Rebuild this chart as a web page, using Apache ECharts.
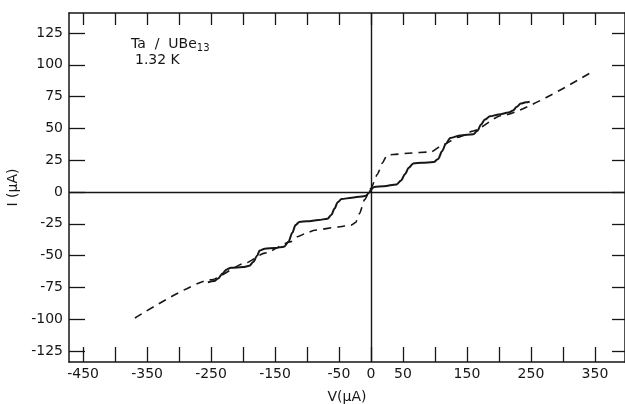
<!DOCTYPE html>
<html>
<head>
<meta charset="utf-8">
<script src="https://cdn.jsdelivr.net/npm/echarts@6/dist/echarts.min.js"></script>
<style>
  html, body { margin: 0; padding: 0; background: #fff; }
  #chart { width: 625px; height: 404px; }
</style>
</head>
<body>
<div id="chart"></div>
<script>
  // tick and label positions
  var xTicks = [-450, -400, -350, -300, -250, -200, -150, -100, -50, 0, 50, 100, 150, 200, 250, 300, 350];
  var xLabels = [-450, -350, -250, -150, -50, 0, 50, 150, 250, 350];
  var yTicks = [-125, -100, -75, -50, -25, 0, 25, 50, 75, 100, 125];

  // solid curve (stepped I-V)
  var solidV = [-255, -245, -239, -232, -226, -219, -200, -190, -184, -178, -174, -166, -150, -136, -129, -123, -118, -112,
    -100, -82, -68, -62, -57, -52, -46, -30, -15, -8, -3, 0, 5, 20, 40, 47, 53, 59, 66, 80, 98, 105, 111, 117, 124,
    140, 160, 166, 172, 178, 186, 200, 215, 222, 228, 234, 242, 248];
  var solidI = [-71, -70, -68, -64, -61, -59.5, -59, -58, -55, -50, -46, -44.5, -44, -43, -39, -32, -26, -23.5,
    -23, -22, -21, -18, -13, -8, -5.5, -4.5, -3.5, -3, -0.5, 2, 4, 4.5, 6, 9, 14, 19, 22.5, 23, 23.5, 26, 32, 38, 42.5,
    44.5, 45.5, 48, 53, 57, 59.5, 61, 62.5, 64, 67, 69.5, 70.5, 71];

  // dashed curve
  var dashV = [-369, -250, -197, -166, -125, -114, -100, -88, -52, -31, -24, -18, -10, 0, 10, 18, 25, 35, 58, 94, 112, 136, 160, 203, 344];
  var dashI = [-99, -69, -56, -48, -39, -35, -32, -30, -27.5, -26, -24, -17, -6, 3, 14, 23, 29, 29.5, 30.5, 31.5, 37, 43, 48, 60, 94];

  function pairs(xs, ys) {
    return xs.map(function (x, i) { return [x, ys[i]]; });
  }

  var ink = '#161616';
  var font = 'DejaVu Sans';
  var chart = echarts.init(document.getElementById('chart'));
  var option = {
    backgroundColor: '#fff',
    animation: false,
    textStyle: { fontFamily: font },
    grid: { left: 69, right: 0, top: 13, bottom: 42, outerBoundsMode: 'none', containLabel: false },
    xAxis: [{
      type: 'value',
      position: 'bottom',
      min: -472,
      max: 397,
      name: 'V(μA)',
      nameLocation: 'middle',
      nameGap: 28,
      nameTextStyle: { fontSize: 14, color: ink, fontFamily: font },
      axisLine: { onZero: false, lineStyle: { color: ink, width: 1.5 } },
      axisTick: { inside: true, length: 15, customValues: xTicks, lineStyle: { color: ink, width: 1.3 } },
      axisLabel: { customValues: xLabels, fontSize: 14, color: ink, margin: 5, fontFamily: font },
      splitLine: { show: false }
    }, {
      type: 'value',
      position: 'top',
      min: -472,
      max: 397,
      axisLine: { onZero: false, lineStyle: { color: ink, width: 1.5 } },
      axisTick: { inside: true, length: 12, customValues: xTicks, lineStyle: { color: ink, width: 1.3 } },
      axisLabel: { show: false },
      splitLine: { show: false }
    }],
    yAxis: [{
      type: 'value',
      position: 'left',
      min: -133.6,
      max: 140.7,
      name: 'I (μA)',
      nameLocation: 'middle',
      nameGap: 43,
      nameRotate: 90,
      nameTextStyle: { fontSize: 14, color: ink, fontFamily: font },
      axisLine: { onZero: false, lineStyle: { color: ink, width: 1.5 } },
      axisTick: { inside: true, length: 16, customValues: yTicks, lineStyle: { color: ink, width: 1.3 } },
      axisLabel: { customValues: yTicks, fontSize: 14, color: ink, margin: 6, fontFamily: font },
      splitLine: { show: false }
    }, {
      type: 'value',
      position: 'right',
      min: -133.6,
      max: 140.7,
      axisLine: { onZero: false, lineStyle: { color: ink, width: 1.5 } },
      axisTick: { inside: true, length: 13, customValues: yTicks, lineStyle: { color: ink, width: 1.3 } },
      axisLabel: { show: false },
      splitLine: { show: false }
    }],
    graphic: [{
      type: 'text',
      left: 131,
      top: 37,
      style: {
        text: 'Ta  /  UBe{sub|13}',
        fontSize: 14,
        fontFamily: font,
        fill: ink,
        rich: { sub: { fontSize: 10, fontFamily: font, padding: [8, 0, 0, 0], fill: ink } }
      }
    }, {
      type: 'text',
      left: 135,
      top: 53,
      style: { text: '1.32 K', fontSize: 14, fontFamily: font, fill: ink }
    }],
    series: [{
      name: 'solid',
      type: 'line',
      data: pairs(solidV, solidI),
      showSymbol: false,
      smooth: 0.3,
      smoothMonotone: 'x',
      lineStyle: { color: ink, width: 2 },
      markLine: {
        silent: true,
        symbol: 'none',
        label: { show: false },
        lineStyle: { color: ink, type: 'solid', width: 1.4 },
        data: [{ xAxis: 0 }, { yAxis: 0 }]
      },
      z: 3
    }, {
      name: 'dashed',
      type: 'line',
      data: pairs(dashV, dashI),
      showSymbol: false,
      smooth: 0.2,
      smoothMonotone: 'x',
      lineStyle: { color: ink, width: 1.6, type: [8, 6] },
      z: 2
    }]
  };
  chart.setOption(option);
</script>
</body>
</html>
